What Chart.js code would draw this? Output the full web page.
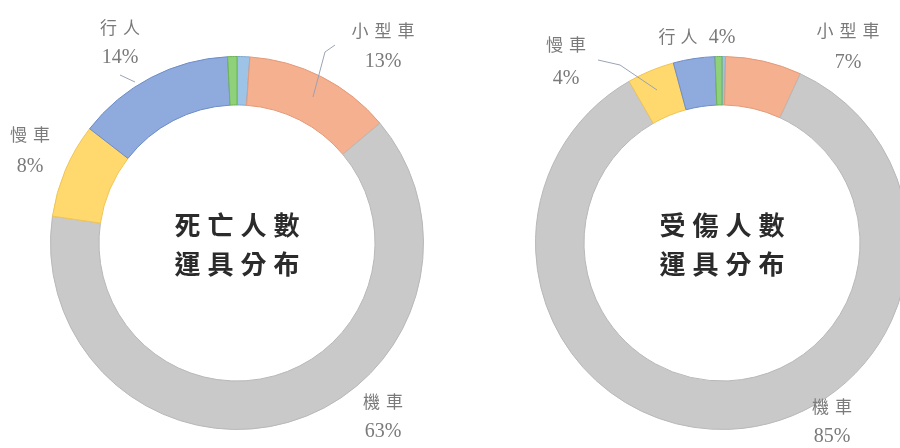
<!DOCTYPE html>
<html lang="zh-Hant">
<head>
<meta charset="UTF-8">
<title>死亡與受傷人數運具分布</title>
<script src="https://cdn.jsdelivr.net/npm/chart.js"></script>
<style>
  html, body { margin: 0; padding: 0; background: #fff; }
  body { width: 900px; height: 448px; overflow: hidden; position: relative; }
  .box { position: absolute; top: 0; height: 448px; }
  #leftBox { left: 0; width: 450px; }
  #rightBox { left: 450px; width: 500px; }
</style>
</head>
<body>
<div class="box" id="leftBox"><canvas id="deathChart"></canvas></div>
<div class="box" id="rightBox"><canvas id="injuryChart"></canvas></div>

<script>
// data
const categories = ['大型車', '小型車', '機車', '慢車', '行人', '其他'];
const deathValues = [1.1, 12.8, 63.4, 8.2, 13.7, 0.8];
const injuryValues = [0.3, 6.6, 84.8, 4.1, 3.6, 0.6];
const deathTitle = ['死亡人數', '運具分布'];
const injuryTitle = ['受傷人數', '運具分布'];

const fills = ['#9dc3e6', '#f5b08f', '#c9c9c9', '#ffd86e', '#8faadc', '#8fd07a'];
const edges = ['#7fa8d0', '#e39a78', '#b8b8b8', '#f0c455', '#6d8cc8', '#6cb454'];

// label placement, relative to the doughnut centre
const deathLabels = [
  { i: 1, dx: 146, dy: -212, dy2: -181 },
  { i: 2, dx: 146, dy: 159, dy2: 189 },
  { i: 3, dx: -207, dy: -108, dy2: -76 },
  { i: 4, dx: -117, dy: -215, dy2: -185 }
];
const injuryLabels = [
  { i: 1, dx: 126, dy: -212, dy2: -180 },
  { i: 2, dx: 110, dy: 164, dy2: 194 },
  { i: 3, dx: -156, dy: -198, dy2: -164 },
  { i: 4, dx: -26, dy: -206, inline: true }
];
const deathLeaders = [
  [[-117, -168], [-102, -161]],
  [[98, -198], [88, -191], [76, -146]]
];
const injuryLeaders = [
  [[-124, -183], [-102, -178], [-65, -153]]
];

function spaced(ctx, text, cx, cy, step) {
  const n = text.length;
  for (let k = 0; k < n; k++) {
    ctx.fillText(text[k], cx + (k - (n - 1) / 2) * step, cy);
  }
}

const decorPlugin = {
  id: 'decor',
  afterDatasetsDraw(chart, args, opts) {
    const ctx = chart.ctx;
    const a = chart.chartArea;
    const cx = (a.left + a.right) / 2;
    const cy = (a.top + a.bottom) / 2;
    const vals = chart.data.datasets[0].data;
    const total = vals.reduce((s, v) => s + v, 0);
    ctx.save();

    // leader lines
    ctx.strokeStyle = '#9aa3b5';
    ctx.lineWidth = 1;
    opts.leaders.forEach(pts => {
      ctx.beginPath();
      pts.forEach((p, k) => {
        if (k === 0) ctx.moveTo(cx + p[0], cy + p[1]);
        else ctx.lineTo(cx + p[0], cy + p[1]);
      });
      ctx.stroke();
    });

    // centre title
    ctx.fillStyle = '#2b2b2b';
    ctx.textAlign = 'center';
    ctx.textBaseline = 'middle';
    ctx.font = 'bold 26px "Noto Sans CJK TC"';
    spaced(ctx, opts.title[0], cx, cy - 18, 33);
    spaced(ctx, opts.title[1], cx, cy + 21, 33);

    // category labels
    ctx.fillStyle = '#7a7a7a';
    opts.labels.forEach(l => {
      const name = chart.data.labels[l.i];
      const pct = Math.round(vals[l.i] / total * 100) + '%';
      if (l.inline) {
        ctx.font = '17px "Noto Sans CJK TC"';
        spaced(ctx, name, cx + l.dx - 18, cy + l.dy, 22);
        ctx.font = '20px "Liberation Serif"';
        ctx.fillText(pct, cx + l.dx + 26, cy + l.dy + 1);
      } else {
        ctx.font = '17px "Noto Sans CJK TC"';
        spaced(ctx, name, cx + l.dx, cy + l.dy, 23);
        ctx.font = '20px "Liberation Serif"';
        ctx.fillText(pct, cx + l.dx, cy + l.dy2);
      }
    });
    ctx.restore();
  }
};

function makeDoughnut(id, values, pad, title, labels, leaders) {
  return new Chart(document.getElementById(id), {
    type: 'doughnut',
    data: {
      labels: categories,
      datasets: [{
        data: values,
        backgroundColor: fills,
        borderColor: edges,
        borderWidth: 1
      }]
    },
    options: {
      responsive: true,
      maintainAspectRatio: false,
      animation: false,
      cutout: '74%',
      layout: { padding: pad },
      plugins: {
        legend: { display: false },
        tooltip: { enabled: false },
        decor: { title: title, labels: labels, leaders: leaders }
      }
    },
    plugins: [decorPlugin]
  });
}

makeDoughnut('deathChart', deathValues,
  { top: 56, bottom: 18, left: 50, right: 26 },
  deathTitle, deathLabels, deathLeaders);
makeDoughnut('injuryChart', injuryValues,
  { top: 56, bottom: 18, left: 85, right: 41 },
  injuryTitle, injuryLabels, injuryLeaders);
</script>
</body>
</html>
